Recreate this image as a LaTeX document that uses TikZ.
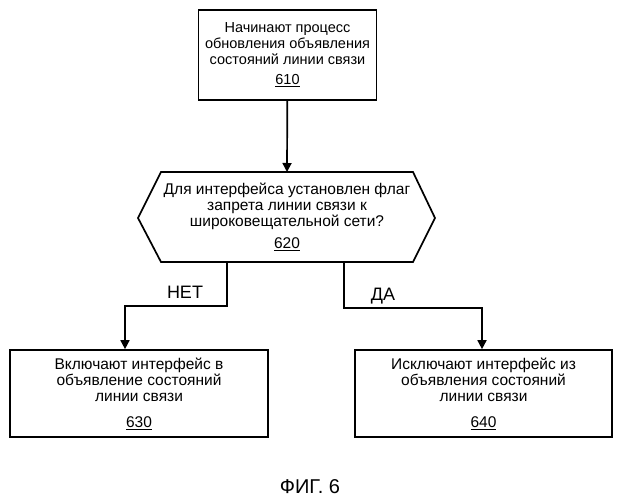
\documentclass[tikz,border=0pt]{standalone}
\usepackage{fontspec}
\setmainfont{Liberation Sans}
\usetikzlibrary{arrows.meta}

\begin{document}
\begin{tikzpicture}
  [x=1pt,y=-1pt,line width=1.7pt,font=\fontsize{15.5}{16}\selectfont,
   every node/.style={align=center,inner sep=0pt},
   stepbox/.style={draw,rectangle},
   flow/.style={-{Triangle[width=9pt,length=9pt]}}]
  \useasboundingbox (0,0) rectangle (620,500);
  \node[stepbox,minimum width=178pt,minimum height=90pt,font=\fontsize{14.5}{16}\selectfont] (s610) at (287.5,55)
    {Начинают процесс\\обновления объявления\\состояний линии связи\\[4pt]\underline{610}};
  \draw (161,172) -- (413,172) -- (435,218) -- (413,262) -- (161,262) -- (138,218) -- cycle;
  \node (q620) at (287,217)
    {Для интерфейса установлен флаг\\запрета линии связи к\\широковещательной сети?\\[6pt]\underline{620}};
  \coordinate (q-top) at (287,172);
  \coordinate (q-left) at (227,262);
  \coordinate (q-right) at (344,262);
  \node[stepbox,minimum width=258pt,minimum height=87pt] (s630) at (139,393.5)
    {Включают интерфейс в\\объявление состояний\\линии связи\\[10pt]\underline{630}};
  \node[stepbox,minimum width=257pt,minimum height=87pt] (s640) at (483.5,393.5)
    {Исключают интерфейс из\\объявления состояний\\линии связи\\[10pt]\underline{640}};
  \draw[flow] (s610) -- (q-top);
  \draw[flow] (q-left) |- (125,306) -- (s630.north -| 125,0);
  \draw[flow] (q-right) |- (482,308) -- (s640.north -| 482,0);
  \node (no) at (185,292) {\fontsize{18}{19}\selectfont НЕТ};
  \node (yes) at (383,296) {\fontsize{18}{19}\selectfont ДА};
  \node (cap) at (310,487) {\fontsize{20}{21}\selectfont ФИГ. 6};
\end{tikzpicture}
\end{document}
